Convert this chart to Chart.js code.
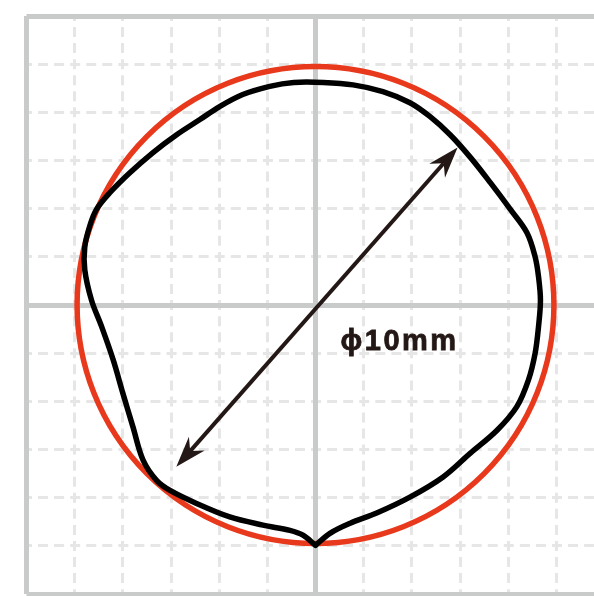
<!DOCTYPE html>
<html><head><meta charset="utf-8">
<script src="https://cdn.jsdelivr.net/npm/chart.js@4/dist/chart.umd.min.js"></script>
<style>html,body{margin:0;padding:0;overflow:hidden;background:#fff}canvas{display:block}</style>
</head><body>
<canvas id="c" width="620" height="620"></canvas>
<script>
// axis range in mm, grid every 1 mm
const axisMin = -6, axisMax = 6, gridStep = 1;
const frameTicks = [-6, 0, 6];
// nominal circle (red), radius in mm
const circleRadius = 4.95;
// measured profile (black), mm, starting and ending at the bottom cusp
const profileX = [0, 0.30, 0.72, 1.27, 1.96, 2.65, 3.21, 3.77, 4.18, 4.42, 4.56, 4.63, 4.67, 4.63, 4.56, 4.39, 4.05, 3.63, 3.22, 2.80, 2.38, 1.96, 1.40, 0.78, 0.16, -0.45, -0.95, -1.51, -1.99, -2.40, -2.89, -3.38, -3.86, -4.27, -4.55, -4.69, -4.79, -4.79, -4.65, -4.44, -4.20, -4.00, -3.79, -3.58, -3.30, -3.02, -2.47, -1.78, -1.09, -0.53, -0.26, 0];
const profileY = [-4.99, -4.74, -4.53, -4.32, -3.99, -3.57, -3.08, -2.60, -2.11, -1.56, -1.00, -0.45, 0.10, 0.59, 1.00, 1.50, 1.98, 2.54, 3.06, 3.53, 3.91, 4.20, 4.43, 4.57, 4.62, 4.62, 4.54, 4.37, 4.12, 3.85, 3.53, 3.16, 2.74, 2.33, 1.98, 1.63, 1.21, 0.73, 0.10, -0.45, -1.14, -1.83, -2.53, -3.22, -3.64, -3.85, -4.12, -4.40, -4.57, -4.68, -4.78, -4.99];
// diameter arrow end points (mm)
const arrowX = [-2.89, 2.95];
const arrowY = [-3.36, 3.27];
// label
const labelText = 'ϕ10mm';
const labelX = 0.52, labelY = -0.93;

const ink = '#231815';
const red = '#e8391d';

const circlePlugin = {
  id: 'nominalCircle',
  beforeDatasetsDraw(chart) {
    const {ctx, scales: {x, y}} = chart;
    const cx = x.getPixelForValue(0), cy = y.getPixelForValue(0);
    const r = x.getPixelForValue(circleRadius) - cx;
    ctx.save();
    ctx.beginPath();
    ctx.arc(cx, cy, r, 0, Math.PI * 2);
    ctx.strokeStyle = red;
    ctx.lineWidth = 5.5;
    ctx.stroke();
    ctx.restore();
  }
};

const arrowPlugin = {
  id: 'diameterArrow',
  afterDatasetsDraw(chart) {
    const {ctx, scales: {x, y}} = chart;
    const p1 = {x: x.getPixelForValue(arrowX[0]), y: y.getPixelForValue(arrowY[0])};
    const p2 = {x: x.getPixelForValue(arrowX[1]), y: y.getPixelForValue(arrowY[1])};
    const dx = p2.x - p1.x, dy = p2.y - p1.y;
    const len = Math.hypot(dx, dy);
    const ux = dx / len, uy = dy / len;
    const px = -uy, py = ux;
    const headLen = 31, headHalf = 10.5, notch = 21;
    ctx.save();
    ctx.strokeStyle = ink;
    ctx.fillStyle = ink;
    ctx.lineWidth = 4;
    ctx.beginPath();
    ctx.moveTo(p1.x + ux * notch, p1.y + uy * notch);
    ctx.lineTo(p2.x - ux * notch, p2.y - uy * notch);
    ctx.stroke();
    const head = (tip, sx, sy) => {
      ctx.beginPath();
      ctx.moveTo(tip.x, tip.y);
      ctx.lineTo(tip.x + sx * headLen + px * headHalf, tip.y + sy * headLen + py * headHalf);
      ctx.lineTo(tip.x + sx * notch, tip.y + sy * notch);
      ctx.lineTo(tip.x + sx * headLen - px * headHalf, tip.y + sy * headLen - py * headHalf);
      ctx.closePath();
      ctx.fill();
    };
    head(p2, -ux, -uy);
    head(p1, ux, uy);
    ctx.restore();
  }
};

const labelPlugin = {
  id: 'diameterLabel',
  afterDatasetsDraw(chart) {
    const {ctx, scales: {x, y}} = chart;
    ctx.save();
    ctx.font = "bold 29px 'Liberation Sans', Arial, sans-serif";
    ctx.fillStyle = ink;
    ctx.strokeStyle = ink;
    ctx.lineWidth = 0.8;
    ctx.textAlign = 'left';
    ctx.textBaseline = 'alphabetic';
    try { ctx.letterSpacing = '2.5px'; } catch (e) {}
    const tx = x.getPixelForValue(labelX), ty = y.getPixelForValue(labelY);
    ctx.fillText(labelText, tx, ty);
    ctx.strokeText(labelText, tx, ty);
    ctx.restore();
  }
};

const dashGrid = {color: '#e6e6e6', lineWidth: 3, drawTicks: false};
const dashBorder = {display: false, dash: [10, 6.06], dashOffset: 5};
const solidGrid = {color: '#c9caca', lineWidth: 5, drawTicks: false};
const setFrameTicks = s => { s.ticks = frameTicks.map(v => ({value: v})); };

new Chart(document.getElementById('c'), {
  type: 'scatter',
  data: {
    datasets: [{
      label: 'profile',
      data: profileX.map((v, i) => ({x: v, y: profileY[i]})),
      showLine: true,
      borderColor: '#000',
      borderWidth: 5.5,
      pointRadius: 0,
      tension: 0.35,
      borderJoinStyle: 'round',
      borderCapStyle: 'round',
      fill: false
    }]
  },
  options: {
    responsive: false,
    animation: false,
    devicePixelRatio: 1,
    layout: {padding: {left: 26.5, top: 16, right: 15.5, bottom: 26}},
    plugins: {legend: {display: false}, tooltip: {enabled: false}},
    scales: {
      x: {type: 'linear', min: axisMin, max: axisMax, ticks: {display: false, stepSize: gridStep}, grid: dashGrid, border: dashBorder},
      y: {type: 'linear', min: axisMin, max: axisMax, ticks: {display: false, stepSize: gridStep}, grid: dashGrid, border: dashBorder},
      x2: {type: 'linear', position: 'top', min: axisMin, max: axisMax, afterBuildTicks: setFrameTicks, ticks: {display: false}, grid: solidGrid, border: {display: false}},
      y2: {type: 'linear', position: 'right', min: axisMin, max: axisMax, afterBuildTicks: setFrameTicks, ticks: {display: false}, grid: solidGrid, border: {display: false}}
    }
  },
  plugins: [circlePlugin, arrowPlugin, labelPlugin]
});
</script>
</body></html>
